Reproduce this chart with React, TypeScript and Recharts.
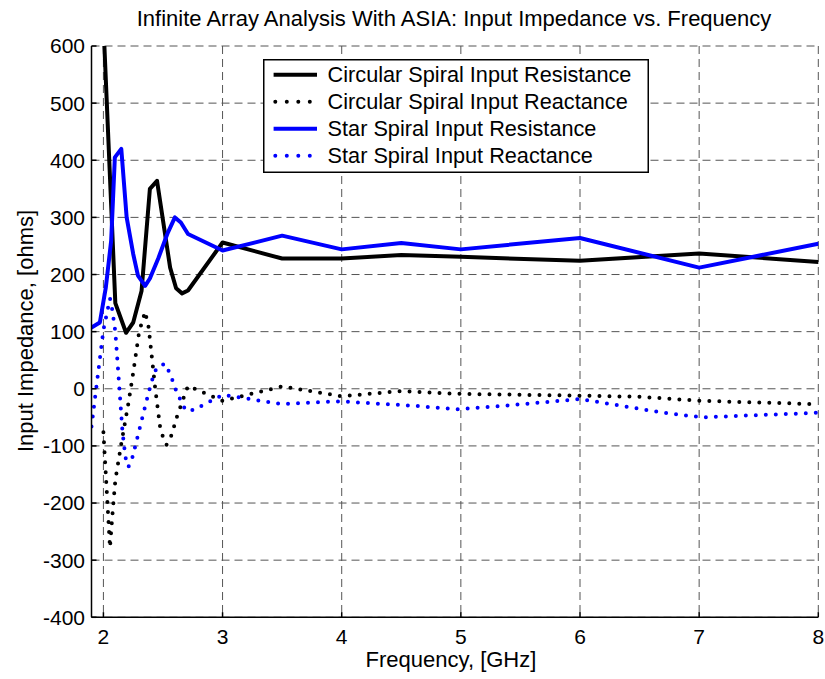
import React from 'react';
import { LineChart, Line, XAxis, YAxis, CartesianGrid, Legend } from 'recharts';

const FONT = '"Liberation Sans", Arial, Helvetica, sans-serif';

// Frequency ticks (GHz) and impedance ticks (ohms)
const xTicks = [2, 3, 4, 5, 6, 7, 8];
const yTicks = [-400, -300, -200, -100, 0, 100, 200, 300, 400, 500, 600];

// Circular spiral input resistance
const circResFreq = [2.0, 2.1, 2.19, 2.25, 2.32, 2.39, 2.45, 2.56, 2.61, 2.66, 2.71, 3.0, 3.5, 4.0, 4.5, 5.0, 6.0, 7.0, 8.0];
const circRes = [640, 150, 98, 116, 171, 350, 364, 212, 176, 167, 172, 256, 228, 228, 234, 231, 224, 237, 222];

// Circular spiral input reactance
const circReactFreq = [2.0, 2.055, 2.075, 2.1, 2.15, 2.21, 2.25, 2.3, 2.35, 2.38, 2.435, 2.48, 2.53, 2.57, 2.62, 2.68, 2.71, 2.8, 3.0, 3.1, 3.5, 4.0, 4.5, 5.0, 6.0, 6.5, 7.0, 8.0];
const circReact = [-76, -278, -222, -160, -96, -25, 28, 100, 135, 107, 0, -74, -98, -82, -47, -12, 5, -3, -21, -16, 4, -13, -4, -9, -12, -14, -21, -27];

// Star spiral input resistance
const starResFreq = [1.9, 1.97, 2.02, 2.065, 2.096, 2.15, 2.195, 2.25, 2.29, 2.35, 2.39, 2.46, 2.54, 2.6, 2.65, 2.71, 3.0, 3.5, 4.0, 4.5, 5.0, 6.0, 7.0, 8.0];
const starRes = [107, 116, 177, 259, 405, 420, 300, 236, 198, 180, 193, 228, 273, 300, 291, 271, 242, 268, 244, 255, 244, 264, 212, 254];

// Star spiral input reactance
const starReactFreq = [1.9, 2.0, 2.055, 2.07, 2.1, 2.16, 2.185, 2.21, 2.245, 2.35, 2.4, 2.446, 2.516, 2.56, 2.615, 2.69, 2.76, 2.84, 3.0, 3.08, 3.5, 3.84, 4.0, 4.3, 4.63, 4.96, 5.4, 5.83, 6.0, 6.35, 6.7, 7.03, 7.5, 8.0];
const starReact = [-66, 103, 158, 144, 100, -75, -120, -137, -119, -31, 10, 37, 44, 26, -6, -38, -37, -28, -11, -13, -27, -23, -22, -26, -30, -36, -29, -21, -18, -30, -42, -50, -46, -42];

const seriesNames = [
  'Circular Spiral Input Resistance',
  'Circular Spiral Input Reactance',
  'Star Spiral Input Resistance',
  'Star Spiral Input Reactance',
];

const toPoints = (xs: number[], ys: number[]) => xs.map((f, i) => ({ f, v: ys[i] }));

const series = [
  { name: seriesNames[0], data: toPoints(circResFreq, circRes), color: '#000000', dotted: false },
  { name: seriesNames[1], data: toPoints(circReactFreq, circReact), color: '#000000', dotted: true },
  { name: seriesNames[2], data: toPoints(starResFreq, starRes), color: '#0000ff', dotted: false },
  { name: seriesNames[3], data: toPoints(starReactFreq, starReact), color: '#0000ff', dotted: true },
];

const W = 825;
const H = 679;

const LegendBox = () => (
  <svg width={386} height={114} style={{ display: 'block' }}>
    <rect x={0.75} y={0.75} width={384.5} height={112.5} fill="#fff" stroke="#000" strokeWidth={1.5} />
    {series.map((s, i) => {
      const cy = 15.7 + i * 27;
      return (
        <g key={s.name}>
          <line
            x1={s.dotted ? 12.3 : 10.6}
            x2={s.dotted ? 47 : 54}
            y1={cy}
            y2={cy}
            stroke={s.color}
            strokeWidth={4}
            strokeLinecap={s.dotted ? 'round' : 'butt'}
            strokeDasharray={s.dotted ? '0 11.5' : undefined}
          />
          <text x={64.6} y={cy + 7.7} fontFamily={FONT} fontSize={21.7} fill="#000">
            {s.name}
          </text>
        </g>
      );
    })}
  </svg>
);

export default function App() {
  return (
    <div style={{ position: 'absolute', left: 0, top: 0, width: W, height: H, background: '#fff' }}>
      <LineChart
        width={W}
        height={H}
        margin={{ top: 46, right: 6.7, bottom: 31.7, left: 31.5 }}
      >
        <CartesianGrid stroke="#555" strokeDasharray="8 5" strokeWidth={1} />
        <XAxis
          dataKey="f"
          type="number"
          domain={[1.9, 8]}
          ticks={xTicks}
          interval={0}
          allowDataOverflow
          height={30}
          stroke="#000"
          strokeWidth={1.5}
          tickSize={-5}
          tickMargin={16.5}
          tick={{ fill: '#000', fontSize: 21, fontFamily: FONT }}
        />
        <XAxis
          xAxisId="top"
          orientation="top"
          dataKey="f"
          type="number"
          domain={[1.9, 8]}
          ticks={xTicks}
          interval={0}
          allowDataOverflow
          height={0}
          stroke="#000"
          strokeWidth={1.5}
          tickSize={-5}
          tick={false}
        />
        <YAxis
          type="number"
          domain={[-400, 600]}
          ticks={yTicks}
          interval={0}
          allowDataOverflow
          width={60}
          stroke="#000"
          strokeWidth={1.5}
          tickSize={-5}
          tickMargin={11.5}
          tick={{ fill: '#000', fontSize: 21, fontFamily: FONT }}
        />
        <YAxis
          yAxisId="right"
          orientation="right"
          type="number"
          domain={[-400, 600]}
          ticks={yTicks}
          interval={0}
          allowDataOverflow
          width={0}
          stroke="#000"
          strokeWidth={1.5}
          tickSize={-5}
          tick={false}
        />
        <Legend
          layout="horizontal"
          verticalAlign="middle"
          align="center"
          wrapperStyle={{ position: 'absolute', left: 262.7, top: 59.3, width: 386, height: 114 }}
          content={() => <LegendBox />}
        />
        {series.map((s) => (
          <Line
            key={s.name}
            name={s.name}
            data={s.data}
            dataKey="v"
            type="linear"
            stroke={s.color}
            strokeWidth={4}
            strokeLinecap="round"
            strokeLinejoin="round"
            strokeDasharray={s.dotted ? '0 10' : undefined}
            dot={false}
            activeDot={false}
            isAnimationActive={false}
          />
        ))}
      </LineChart>
      <svg
        width={W}
        height={H}
        style={{ position: 'absolute', left: 0, top: 0, pointerEvents: 'none' }}
      >
        <text x={454} y={26} textAnchor="middle" fontFamily={FONT} fontSize={22} fill="#000">
          Infinite Array Analysis With ASIA: Input Impedance vs. Frequency
        </text>
        <text x={451} y={666.7} textAnchor="middle" fontFamily={FONT} fontSize={22} fill="#000">
          Frequency, [GHz]
        </text>
        <text
          x={33}
          y={331}
          textAnchor="middle"
          fontFamily={FONT}
          fontSize={22}
          fill="#000"
          transform="rotate(-90 33 331)"
        >
          Input Impedance, [ohms]
        </text>
      </svg>
    </div>
  );
}
